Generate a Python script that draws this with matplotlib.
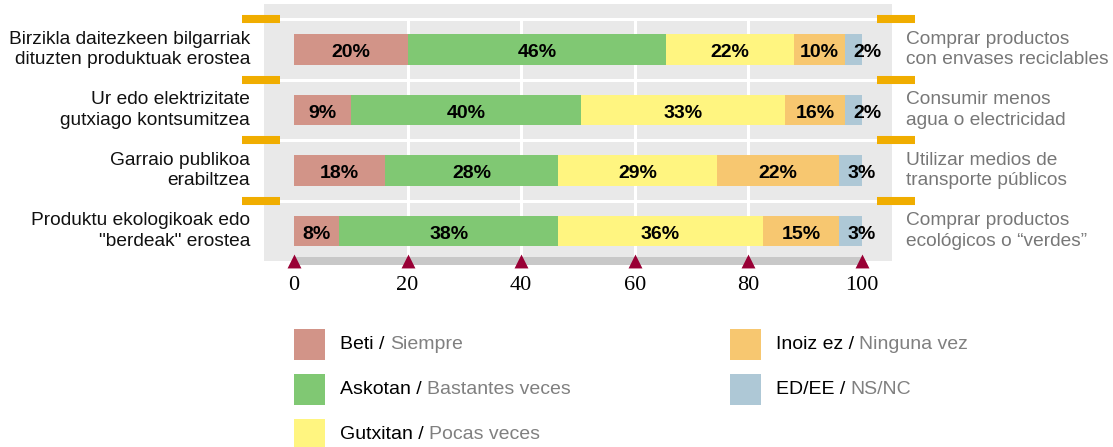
import matplotlib
matplotlib.use("Agg")
import matplotlib.pyplot as plt
from matplotlib.patches import Rectangle

# ---------------- data ----------------
rows_eu = ["Birzikla daitezkeen bilgarriak\ndituzten produktuak erostea",
           "Ur edo elektrizitate\ngutxiago kontsumitzea",
           "Garraio publikoa\nerabiltzea",
           "Produktu ekologikoak edo\n\"berdeak\" erostea"]
rows_es = ["Comprar productos\ncon envases reciclables",
           "Consumir menos\nagua o electricidad",
           "Utilizar medios de\ntransporte públicos",
           "Comprar productos\necológicos o “verdes”"]
cats_eu = ["Beti", "Askotan", "Gutxitan", "Inoiz ez", "ED/EE"]
cats_es = ["Siempre", "Bastantes veces", "Pocas veces", "Ninguna vez", "NS/NC"]
colors = ["#d29488", "#80c873", "#fff580", "#f7c770", "#aec8d6"]

# printed percentages
pct_labels = [[20, 46, 22, 10, 2],
              [9, 40, 33, 16, 2],
              [18, 28, 29, 22, 3],
              [8, 38, 36, 15, 3]]
# segment lengths as drawn in the reference
seg_lengths = [[20, 45.5, 22.5, 9, 3],
               [10, 40.5, 36, 10.5, 3],
               [16, 30.5, 28, 21.5, 4],
               [8, 38.5, 36, 13.5, 4]]
ticks = [0, 20, 40, 60, 80, 100]

# ---------------- figure ----------------
W, H = 1113, 447
fig = plt.figure(figsize=(W / 100, H / 100), dpi=100)
ax = fig.add_axes([0, 0, 1, 1])
ax.set_axis_off()

X0, SX = 294.0, 5.68      # px of x=0, px per unit
Y0, SY = 49.5, 60.5       # px of row 0 centre, px per row
ax.set_xlim(-X0 / SX, (W - X0) / SX)
ax.set_ylim((H - Y0) / SY, -Y0 / SY)

SANS = "Liberation Sans"
SERIF = "Liberation Serif"
PANEL = "#e9e9e9"
GOLD = "#f0ad00"
MAROON = "#990035"

# background panel
px_l, px_r = (264 - X0) / SX, (892 - X0) / SX
py_t, py_b = (4 - Y0) / SY, 3.5
ax.add_patch(Rectangle((px_l, py_t), px_r - px_l, py_b - py_t,
                       facecolor=PANEL, edgecolor="none", zorder=0))
n = len(rows_eu)
bounds = [i - 0.5 for i in range(n)]
ax.hlines(bounds, px_l, px_r, color="white", lw=2.2, zorder=1)
ax.vlines(ticks[1:-1], -0.5, 3.43, color="white", lw=2.2, zorder=1)

# gold markers at row boundaries
ax.hlines(bounds, (242 - X0) / SX, (280 - X0) / SX, color=GOLD, lw=5.8, zorder=3)
ax.hlines(bounds, (877 - X0) / SX, (915 - X0) / SX, color=GOLD, lw=5.8, zorder=3)

# bars
for i in range(n):
    left = 0
    for j, (v, c) in enumerate(zip(seg_lengths[i], colors)):
        ax.barh(i, v, left=left, height=0.51, color=c, edgecolor="none", zorder=2)
        if j < len(colors) - 1:
            ax.text(left + v / 2, i + 0.125, f"{pct_labels[i][j]}%", ha="center",
                    va="baseline", fontsize=14, fontweight="bold", family=SANS,
                    color="black", zorder=4)
        else:
            ax.text(left + 1.5, i + 0.125, f"{pct_labels[i][j]}%", ha="left",
                    va="baseline", fontsize=14, fontweight="bold", family=SANS,
                    color="black", zorder=4)
        left += v
    ax.text((250 - X0) / SX, i, rows_eu[i], ha="right", va="center",
            fontsize=13.8, family=SANS, color="#111111", linespacing=1.3)
    ax.text((906 - X0) / SX, i, rows_es[i], ha="left", va="center",
            fontsize=13.8, family=SANS, color="#777777", linespacing=1.3)

# bottom scale band with triangles
ax.add_patch(Rectangle((ticks[0], 3.43), ticks[-1] - ticks[0], 0.13,
                       facecolor="#c8c8c8", edgecolor="none", zorder=2))
ax.scatter(ticks, [3.5] * len(ticks), marker="^", s=100, color=MAROON,
           linewidths=0, zorder=5)
for t in ticks:
    ax.text(t, (286 - Y0) / SY, str(t), ha="center", va="center",
            fontsize=16, family=SERIF, color="black")

# legend
leg_pos = [(0, 0), (0, 1), (0, 2), (1, 0), (1, 1)]
col_x = [(294 - X0) / SX, (730 - X0) / SX]
row_y = [(329 - Y0) / SY, (374 - Y0) / SY, (419 - Y0) / SY]
sq_w, sq_h = 31 / SX, 31 / SY
for k, (col, r) in enumerate(leg_pos):
    x, y = col_x[col], row_y[r]
    ax.add_patch(Rectangle((x, y), sq_w, sq_h, facecolor=colors[k],
                           edgecolor="none", clip_on=False))
    t1 = ax.text(x + sq_w + 15 / SX, y + sq_h / 2, cats_eu[k] + " / ",
                 ha="left", va="center", fontsize=14, family=SANS, color="black")
    ax.annotate(cats_es[k], xy=(1, 0), xycoords=t1, ha="left", va="bottom",
                fontsize=14, family=SANS, color="#808080")

fig.savefig("out.png", dpi=100)
